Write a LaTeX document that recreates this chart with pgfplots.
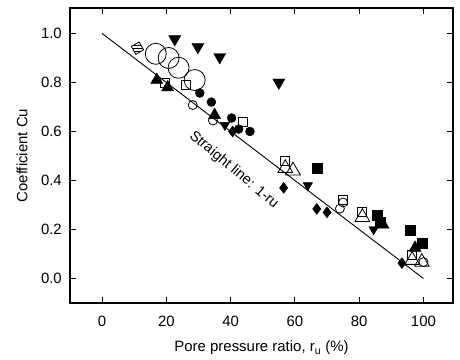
\documentclass[border=0pt]{standalone}
\usepackage{pgfplots}
\pgfplotsset{compat=1.18}
\usepackage{fontspec}
\setmainfont{Liberation Sans}
\usetikzlibrary{patterns}
\begin{document}
\begin{tikzpicture}
\begin{axis}[
  scale only axis, width=383bp, height=295bp,
  xmin=-10, xmax=109.2, ymin=-0.1, ymax=1.104,
  xtick={0,20,40,60,80,100}, ytick={0,0.2,0.4,0.6,0.8,1.0},
  tick align=inside, major tick length=6bp,
  tick style={line width=1bp, black},
  axis line style={line width=1.2bp},
  font=\fontsize{15}{18}\selectfont,
  /pgf/number format/assume math mode=true,
  yticklabel style={/pgf/number format/fixed, /pgf/number format/fixed zerofill, /pgf/number format/precision=1, anchor=east, inner sep=0pt, xshift=-8bp},
  xticklabel style={anchor=center, yshift=-18bp},
  xlabel={Pore pressure ratio, r\textsubscript{u} (\%)},
  ylabel={Coefficient Cu},
  xlabel style={at={([yshift=-45bp]axis description cs:0.5,0)}, anchor=center},
  ylabel style={at={([xshift=-48bp]axis description cs:0,0.5)}, anchor=center},
  clip=false,
]
\addplot[black, line width=0.9bp] coordinates {(0,1) (100,0)};
% big open circles
\addplot[only marks, mark=o, mark size=10.5bp, line width=0.8bp] coordinates {(16.7,0.917) (20.7,0.90) (23.8,0.86) (28.8,0.81)};
% filled down triangles large
\addplot[only marks, mark=triangle*, mark size=7bp, mark options={rotate=180}] coordinates {(22.6,0.977) (29.8,0.945) (36.6,0.904) (55.0,0.80)};
% filled down triangles small
\addplot[only marks, mark=triangle*, mark size=5.5bp, mark options={rotate=180}] coordinates {(38.2,0.626) (64,0.38) (84.5,0.20)};
% filled up triangles
\addplot[only marks, mark=triangle*, mark size=7bp] coordinates {(17,0.81) (20.4,0.78) (35,0.667) (87.4,0.22) (97.4,0.125)};
% filled squares
\addplot[only marks, mark=square*, mark size=5bp] coordinates {(67,0.45) (85.5,0.26) (86.4,0.23) (95.8,0.198) (99.5,0.145)};
% filled circles
\addplot[only marks, mark=*, mark size=4.5bp] coordinates {(30.4,0.757) (34,0.72) (40.3,0.655) (46,0.60) (42.5,0.61)};
% filled diamonds
\addplot[only marks, mark=diamond*, mark size=5.5bp] coordinates {(40.6,0.60) (56.5,0.37) (66.8,0.284) (70,0.27) (93.3,0.063)};
% small open circles
\addplot[only marks, mark=o, mark size=4.5bp, line width=0.8bp] coordinates {(28.2,0.708) (34.5,0.645) (75,0.31) (74,0.285) (100,0.067)};
% open squares
\addplot[only marks, mark=square, mark size=4.5bp, line width=0.8bp] coordinates {(19.5,0.80) (26,0.79) (43.8,0.64) (57,0.48) (75,0.32) (81,0.27) (96.5,0.096)};
% hatched square
\addplot[only marks, mark=square*, mark size=4.5bp, line width=0.8bp, mark options={pattern=horizontal lines, rotate=30}] coordinates {(11,0.94)};
% large open triangles
\addplot[only marks, mark=triangle, mark size=8.5bp, line width=0.8bp] coordinates {(57,0.45) (59.4,0.44) (81,0.25) (96.5,0.075) (99.5,0.067)};
\node[rotate=-40, font=\fontsize{14.5}{17}\selectfont] at (axis cs:41,0.443) {Straight line: 1-ru};
\end{axis}
\pgfresetboundingbox
\path ([xshift=-70bp,yshift=-57bp]current axis.south west) rectangle ++(460bp,360bp);
\end{tikzpicture}
\end{document}
